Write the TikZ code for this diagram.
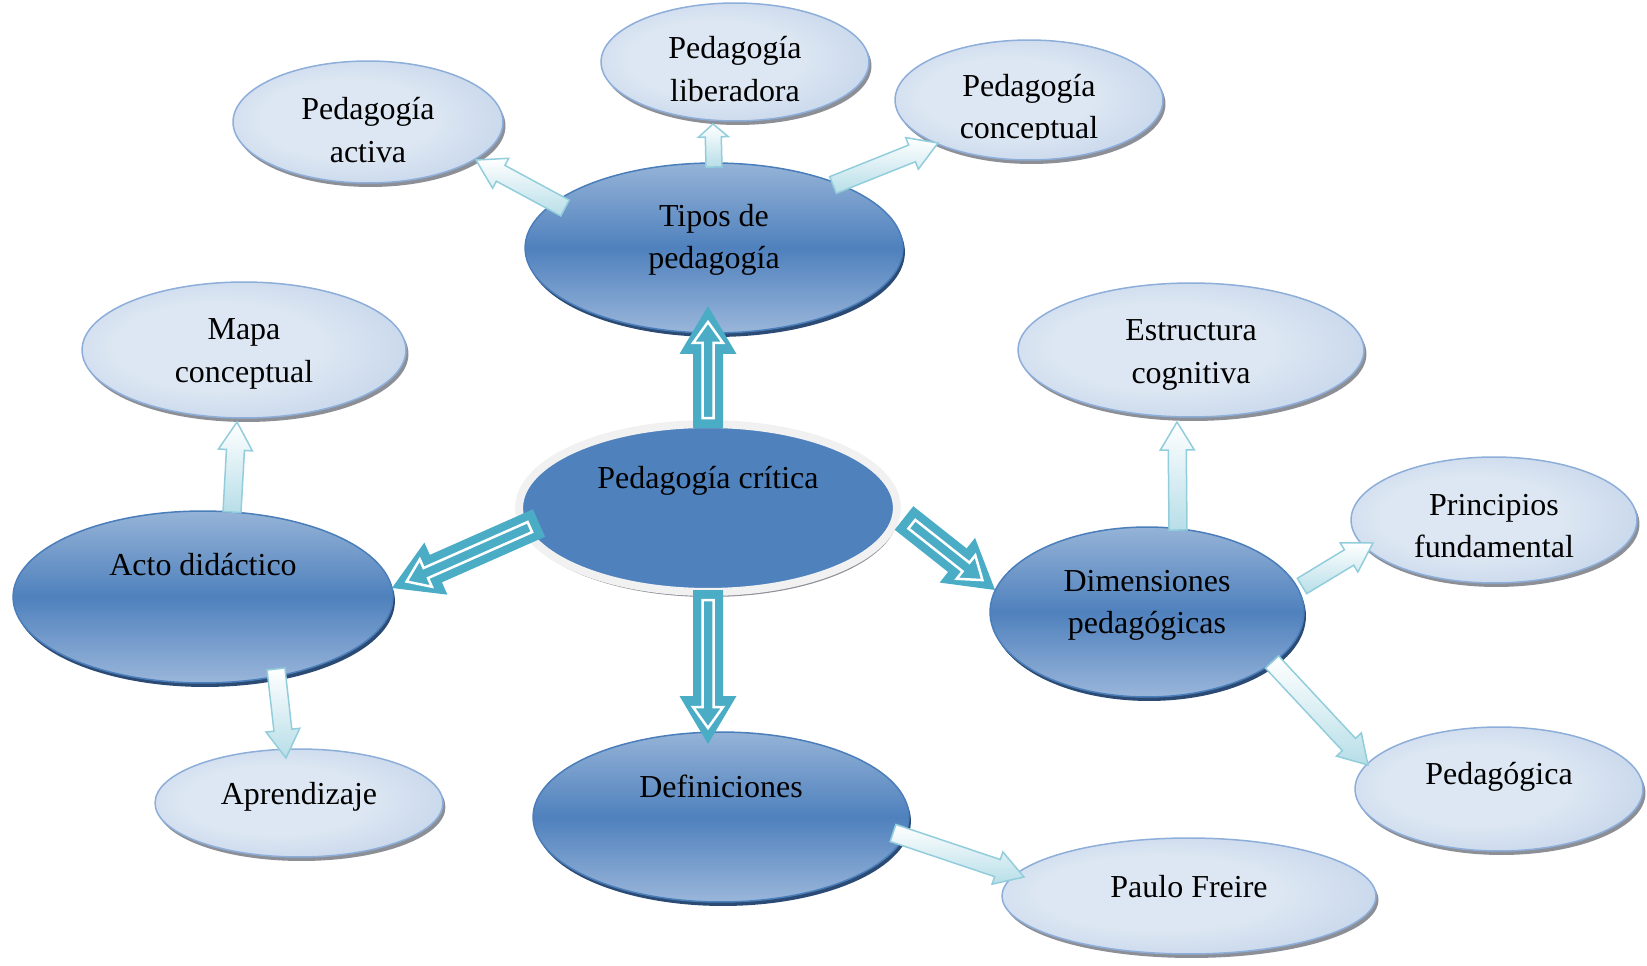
\documentclass[tikz,border=0pt]{standalone}
\usepackage{fontspec}
\setmainfont{Liberation Serif}
\usetikzlibrary{calc,shapes.geometric,shadows}

\definecolor{dtop}{HTML}{95B3D7}
\definecolor{dmid}{HTML}{4F81BD}
\definecolor{dbot}{HTML}{9AB6DA}
\definecolor{dedge}{HTML}{4A7EBB}
\definecolor{drim}{HTML}{2B4B74}
\definecolor{lbin}{HTML}{DDE7F3}
\definecolor{lbout}{HTML}{A6BEDF}
\definecolor{ledge}{HTML}{8EAEDA}
\definecolor{lrim}{HTML}{8C8F96}
\definecolor{cblue}{HTML}{4F81BD}
\definecolor{cring}{HTML}{F1F1F1}
\definecolor{tealfill}{HTML}{4BACC6}
\definecolor{lacyan}{HTML}{B7DEE8}
\definecolor{laedge}{HTML}{92CDDC}

\pgfdeclareradialshading{lightball}{\pgfpoint{-6bp}{2bp}}{color(0bp)=(lbin); color(16bp)=(lbin); color(50bp)=(lbout)}

\tikzset{
  ell/.style 2 args={ellipse, inner sep=0pt, outer sep=0pt,
    minimum width={#1*0.04cm}, minimum height={#2*0.04cm}},
  dark ell/.style={top color=dtop, bottom color=dbot, middle color=dmid,
    draw=dedge, line width=0.03cm,
    drop shadow={shadow xshift=0.04cm, shadow yshift=-0.08cm, fill=drim, opacity=1}},
  light ell/.style={shade, shading=lightball, draw=ledge, line width=0.03cm,
    drop shadow={shadow xshift=0.05cm, shadow yshift=-0.08cm, fill=lrim, opacity=1}},
  crit ell/.style={fill=cblue, draw=cring, line width=0.16cm,
    drop shadow={shadow xshift=0.03cm, shadow yshift=-0.1cm, fill=lrim, opacity=1}},
  teal arrow/.style={fill=tealfill},
  teal inner/.style={draw=white, line width=0.05cm, line join=miter},
  light arrow/.style={top color=white, bottom color=lacyan, draw=laedge,
    line width=0.03cm, line join=miter},
  txt/.style={font=\fontsize{18.2}{24}\selectfont, align=center,
    inner sep=0pt, text=black}
}

% block arrow: style, tail, tip, shaft half width, head half width, head length
\newcommand{\fatarrow}[6]{%
  \path #2 coordinate (fa-t) #3 coordinate (fa-p);
  \path ($(fa-p)!#6!(fa-t)$) coordinate (fa-h);
  \path[#1] ($(fa-t)!#4!90:(fa-p)$) -- ($(fa-h)!#4!90:(fa-p)$)
    -- ($(fa-h)!#5!90:(fa-p)$) -- (fa-p) -- ($(fa-h)!#5!-90:(fa-p)$)
    -- ($(fa-h)!#4!-90:(fa-p)$) -- ($(fa-t)!#4!-90:(fa-p)$) -- cycle;
}
% teal arrow with a white inner outline
\newcommand{\tealarrow}[2]{%
  \path #1 coordinate (ta-a) #2 coordinate (ta-b);
  \fatarrow{teal arrow}{(ta-a)}{(ta-b)}{0.30cm}{0.57cm}{0.96cm}
  \fatarrow{teal inner}{($(ta-a)!0.2cm!(ta-b)$)}{($(ta-b)!0.32cm!(ta-a)$)}{0.11cm}{0.30cm}{0.42cm}
}
\newcommand{\lightarrow}[2]{%
  \fatarrow{light arrow}{#1}{#2}{0.18cm}{0.34cm}{0.56cm}
}

\begin{document}
\begin{tikzpicture}[x=0.02cm, y=-0.02cm]
\useasboundingbox (0,0) rectangle (1647,966);

% ellipses
\node[ell={135}{61}, light ell] (act) at (368,122) {};
\node[ell={134}{59}, light ell] (lib) at (735,62) {};
\node[ell={134}{60}, light ell] (con) at (1029,100) {};
\node[ell={189}{85}, dark ell] (tipos) at (714,248) {};
\node[ell={162}{68}, light ell] (map) at (244,350) {};
\node[ell={173}{67}, light ell] (est) at (1191,350) {};
\node[ell={189}{84}, crit ell] (crit) at (708,508) {};
\node[ell={143}{63}, light ell] (pri) at (1494,520) {};
\node[ell={190}{86}, dark ell] (acto) at (203,597) {};
\node[ell={157}{85}, dark ell] (dim) at (1147,612) {};
\node[ell={144}{62}, light ell] (ped) at (1499,789) {};
\node[ell={144}{54}, light ell] (apr) at (299,803) {};
\node[ell={188}{85}, dark ell] (def) at (721,817) {};
\node[ell={187}{58}, light ell] (pf) at (1189,896) {};

% arrows from the central concept
\tealarrow{($(crit)+(0,-80)$)}{($(tipos)+(-6,58)$)}
\tealarrow{($(crit)+(0,82)$)}{($(def)+(-13,-73)$)}
\tealarrow{($(crit)+(-169,15)$)}{($(acto)+(189,-9)$)}
\tealarrow{($(crit)+(196,10)$)}{($(dim)+(-152,-22)$)}

% arrows to the sub-concepts
\lightarrow{($(tipos)+(-149,-40)$)}{($(act)+(108,38)$)}
\fatarrow{light arrow}{($(tipos)+(0,-81)$)}{($(lib)+(-22,62)$)}{0.16cm}{0.30cm}{0.26cm}
\lightarrow{($(tipos)+(119,-63)$)}{($(con)+(-91,43)$)}
\lightarrow{($(acto)+(29,-85)$)}{($(map)+(-7,72)$)}
\lightarrow{($(acto)+(73,72)$)}{($(apr)+(-13,-45)$)}
\lightarrow{($(def)+(172,16)$)}{($(pf)+(-165,-19)$)}
\lightarrow{($(dim)+(31,-82)$)}{($(est)+(-14,72)$)}
\lightarrow{($(dim)+(155,-26)$)}{($(pri)+(-121,23)$)}
\lightarrow{($(dim)+(125,50)$)}{($(ped)+(-131,-24)$)}

% labels
\node[txt] (actT) at ($(act)+(0,8)$) {Pedagogía\\activa};
\node[txt] (libT) at ($(lib)+(0,7)$) {Pedagogía\\liberadora};
\begin{scope}
  \clip (880,20) rectangle (1180,140);
  \node[txt] (conT) at ($(con)+(0,10)$) {Pedagogía\\conceptual};
\end{scope}
\node[txt] (tiposT) at ($(tipos)+(0,-8)$) {Tipos de\\pedagogía};
\node[txt] (mapT) at ($(map)+(0,4)$) {Mapa\\conceptual};
\node[txt] (estT) at ($(est)+(0,5)$) {Estructura\\cognitiva};
\node[txt] (critT) at ($(crit)+(0,-27)$) {Pedagogía crítica};
\node[txt] (priT) at ($(pri)+(0,6)$) {Principios\\fundamental};
\node[txt] (actoT) at ($(acto)+(0,-32)$) {Acto didáctico};
\node[txt] (dimT) at ($(dim)+(0,-7)$) {Dimensiones\\pedagógicas};
\node[txt] (pedT) at ($(ped)+(0,-12)$) {Pedagógica};
\node[txt] (aprT) at ($(apr)+(0,-6)$) {Aprendizaje};
\node[txt] (defT) at ($(def)+(0,-31)$) {Definiciones};
\node[txt] (pfT) at ($(pf)+(0,-9)$) {Paulo Freire};
\end{tikzpicture}
\end{document}
